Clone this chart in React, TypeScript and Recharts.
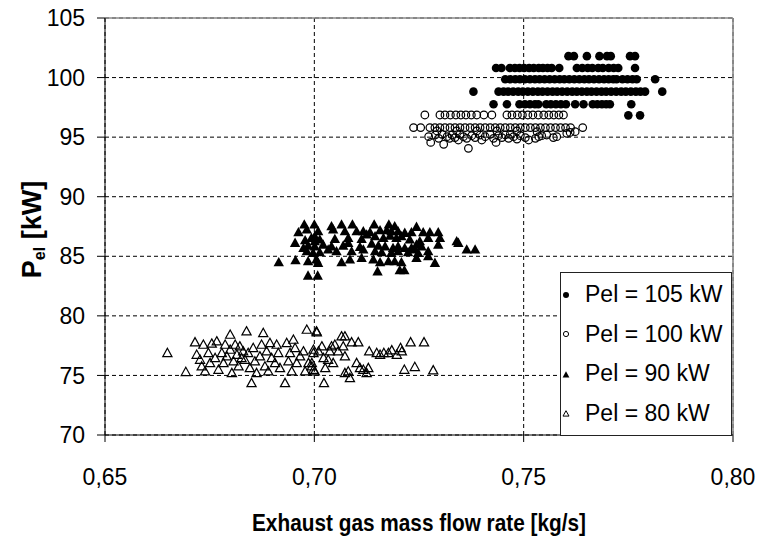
import React from 'react';
import {
  ScatterChart,
  Scatter,
  XAxis,
  YAxis,
  CartesianGrid,
  ReferenceLine,
  Legend,
  Label,
} from 'recharts';

const FONT = "'Liberation Sans', Arial, Helvetica, sans-serif";

const X_TICKS = [0.65, 0.7, 0.75, 0.8];
const Y_TICKS = [70, 75, 80, 85, 90, 95, 100, 105];
const SERIES_NAMES = ['Pel = 105 kW', 'Pel = 100 kW', 'Pel = 90 kW', 'Pel = 80 kW'];

// Pel = 105 kW: power is logged in steps, so each row is one power level
const p105Rows: [number, number[]][] = [
  [101.8, [0.7607, 0.762, 0.7651, 0.7681, 0.7699, 0.7708, 0.7754, 0.7766]],
  [100.8, [0.7434, 0.7447, 0.7467, 0.7479, 0.749, 0.7501, 0.7513, 0.7524, 0.7536, 0.7546, 0.7557, 0.7567,
    0.7585, 0.7627, 0.764, 0.7653, 0.7664, 0.7678, 0.7689, 0.7703, 0.7715, 0.7726, 0.7766]],
  [99.86, [0.7456, 0.7468, 0.748, 0.7491, 0.7503, 0.7515, 0.7527, 0.7538, 0.755, 0.7562, 0.7574, 0.7586,
    0.7597, 0.7609, 0.7621, 0.7633, 0.7645, 0.7656, 0.7668, 0.768, 0.7692, 0.7703, 0.7714, 0.7722,
    0.7736, 0.7748, 0.776, 0.777, 0.7814]],
  [98.82, [0.738, 0.744, 0.7452, 0.7463, 0.7475, 0.7487, 0.7498, 0.751, 0.7522, 0.7534, 0.7545, 0.7557,
    0.7569, 0.758, 0.7592, 0.7604, 0.7616, 0.7627, 0.7639, 0.7651, 0.7662, 0.7674, 0.7686, 0.7697,
    0.7709, 0.7721, 0.7733, 0.7744, 0.7756, 0.7768, 0.7779, 0.779, 0.7831]],
  [97.76, [0.7428, 0.746, 0.749, 0.7503, 0.7515, 0.7527, 0.7535, 0.7554, 0.7565, 0.7577, 0.7589, 0.7601,
    0.7623, 0.7643, 0.7665, 0.7676, 0.7687, 0.7697, 0.7706, 0.7757]],
  [96.83, [0.775, 0.7778]],
];

// Pel = 100 kW
const p100Rows: [number, number[]][] = [
  [96.86, [0.7264, 0.73, 0.7312, 0.7325, 0.7338, 0.735, 0.7362, 0.7375, 0.7388, 0.7405, 0.7424, 0.746,
    0.7472, 0.7485, 0.7497, 0.751, 0.7522, 0.7535, 0.7548, 0.756, 0.7572, 0.7584, 0.7595]],
  [95.8, [0.7237, 0.7254, 0.7276, 0.7288, 0.73, 0.7312, 0.7324, 0.7336, 0.7348, 0.736, 0.7372, 0.7384,
    0.7396, 0.7408, 0.742, 0.7432, 0.7444, 0.7456, 0.7468, 0.748, 0.7492, 0.7504, 0.7516, 0.7528, 0.754,
    0.7552, 0.7564, 0.7576, 0.7588, 0.76, 0.7612, 0.7641]],
];
const p100Loose: [number, number][] = [
  [0.7273, 95.04], [0.7278, 94.56], [0.7289, 95.18], [0.7297, 94.9], [0.7305, 95.24], [0.7309, 94.4],
  [0.7317, 95.04], [0.7323, 94.9], [0.7329, 95.18], [0.7336, 94.96], [0.7344, 94.76], [0.7348, 95.24],
  [0.7356, 95.04], [0.7368, 94.06], [0.7364, 94.9], [0.7376, 95.12], [0.7384, 94.96], [0.7396, 95.18],
  [0.74, 94.76], [0.7408, 95.04], [0.742, 95.24], [0.7428, 94.9], [0.7434, 94.56], [0.744, 95.12],
  [0.7448, 94.96], [0.7456, 95.18], [0.7464, 94.9], [0.7468, 95.24], [0.7476, 95.04], [0.7484, 94.84],
  [0.7492, 95.12], [0.7504, 94.96], [0.7512, 94.76], [0.7528, 94.9], [0.7536, 95.04], [0.7543, 95.12],
  [0.7555, 95.18], [0.7571, 94.96], [0.7579, 95.04], [0.7603, 95.32], [0.7611, 95.4], [0.7623, 95.46],
  [0.7293, 95.52], [0.734, 95.52], [0.7388, 95.52], [0.7436, 95.52], [0.7484, 95.52], [0.7532, 95.46],
];

// Pel = 90 kW
const p90Points: [number, number][] = [
  [0.6976, 87.63], [0.7, 87.63], [0.7041, 87.49], [0.7065, 87.63], [0.7091, 87.63], [0.7143, 87.63],
  [0.7178, 87.63], [0.7192, 87.49], [0.7244, 87.43], [0.6962, 86.98], [0.6982, 87.21], [0.7009, 87.07],
  [0.7045, 87.21], [0.7073, 87.07], [0.7101, 87.07], [0.7117, 87.07], [0.7133, 86.98], [0.7157, 87.15],
  [0.7173, 87.15], [0.7184, 87.07], [0.72, 87.07], [0.7216, 86.93], [0.7232, 86.98], [0.726, 86.98],
  [0.7276, 86.98], [0.7296, 86.98], [0.6954, 86.09], [0.6978, 86.31], [0.6993, 86.5], [0.7013, 86.37],
  [0.7049, 86.42], [0.7081, 86.5], [0.7113, 86.42], [0.7125, 86.79], [0.7145, 86.65], [0.7165, 86.5],
  [0.7181, 86.7], [0.7196, 86.5], [0.7208, 86.65], [0.7228, 86.37], [0.7252, 86.23], [0.7272, 86.5],
  [0.73, 86.5], [0.734, 86.23], [0.7344, 86.09], [0.6974, 85.66], [0.6985, 85.86], [0.7001, 85.8],
  [0.7021, 85.94], [0.7041, 85.8], [0.7069, 85.86], [0.7081, 86.09], [0.7109, 85.75], [0.7137, 86.03],
  [0.7153, 85.86], [0.7169, 85.8], [0.7188, 85.66], [0.72, 85.8], [0.7216, 85.66], [0.7244, 85.94],
  [0.7256, 85.8], [0.7296, 85.94], [0.7364, 85.53], [0.7384, 85.53], [0.6982, 85.39], [0.6997, 85.25],
  [0.7013, 85.3], [0.7033, 85.53], [0.7053, 85.39], [0.7089, 85.39], [0.7117, 85.53], [0.7145, 85.39],
  [0.7161, 85.3], [0.7184, 85.25], [0.72, 85.39], [0.7224, 85.3], [0.724, 85.53], [0.7272, 85.39],
  [0.6915, 84.46], [0.6955, 84.63], [0.6985, 84.55], [0.7005, 84.69], [0.7009, 84.41], [0.7065, 84.46],
  [0.7085, 84.69], [0.7113, 84.83], [0.7141, 84.69], [0.7157, 84.46], [0.7177, 84.55], [0.7192, 84.55],
  [0.7208, 84.46], [0.7244, 84.83], [0.7272, 84.97], [0.7288, 84.41], [0.7151, 83.7], [0.7204, 83.79],
  [0.7215, 83.79], [0.6985, 83.34], [0.7008, 83.34], [0.7001, 86.65], [0.7001, 86.23], [0.7232, 85.66],
  [0.7248, 85.25],
];

// Pel = 80 kW
const p80Points: [number, number][] = [
  [0.6649, 76.85], [0.6693, 75.26], [0.6715, 77.75], [0.6719, 76.71], [0.6727, 76.29], [0.6731, 75.73],
  [0.6735, 77.55], [0.6739, 75.31], [0.6747, 76.85], [0.6751, 76.01], [0.6755, 77.64], [0.6763, 76.43],
  [0.6767, 77.83], [0.6771, 75.45], [0.6779, 76.85], [0.6783, 76.01], [0.6787, 77.55], [0.6791, 76.57],
  [0.6799, 78.39], [0.6799, 77.13], [0.6803, 75.17], [0.6807, 76.15], [0.6811, 77.55], [0.6815, 76.71],
  [0.6819, 75.73], [0.6822, 77.41], [0.6826, 76.43], [0.683, 76.99], [0.6834, 76.29], [0.6838, 78.67],
  [0.6842, 76.85], [0.6846, 75.59], [0.685, 74.33], [0.6854, 77.27], [0.6858, 76.15], [0.6862, 75.17],
  [0.687, 76.57], [0.6874, 77.55], [0.6878, 78.53], [0.6882, 75.73], [0.6886, 76.99], [0.689, 75.31],
  [0.6894, 77.69], [0.6898, 76.43], [0.6906, 76.01], [0.691, 77.55], [0.6914, 76.85], [0.6918, 75.59],
  [0.693, 74.33], [0.6934, 77.69], [0.6938, 76.15], [0.6942, 76.85], [0.6946, 75.31], [0.695, 77.97],
  [0.6954, 77.27], [0.6958, 76.01], [0.6966, 76.57], [0.6974, 76.99], [0.6978, 75.31], [0.6982, 78.81],
  [0.6986, 76.01], [0.6994, 75.73], [0.6998, 76.85], [0.7001, 75.31], [0.7005, 78.67],
  [0.7006, 78.59], [0.6998, 77.13], [0.6994, 76.01], [0.6998, 75.45], [0.701, 76.99], [0.7018, 77.41],
  [0.7022, 76.43], [0.7026, 75.59], [0.7023, 74.33], [0.7033, 76.29], [0.7037, 76.99], [0.7041, 77.41],
  [0.7045, 76.01], [0.7049, 77.55], [0.7057, 76.99], [0.7065, 78.25], [0.7069, 77.41], [0.7073, 76.57],
  [0.7073, 78.25], [0.7073, 75.17], [0.7081, 75.31], [0.7085, 74.75], [0.7089, 77.75], [0.7101, 76.01],
  [0.7105, 77.75], [0.7109, 75.59], [0.7117, 75.45], [0.7125, 75.17], [0.7131, 76.99], [0.7129, 75.59],
  [0.7149, 76.85], [0.7157, 76.71], [0.7166, 76.85], [0.7177, 76.85], [0.7185, 77.08], [0.7197, 76.71],
  [0.7206, 77.27], [0.7209, 76.99], [0.7215, 75.45], [0.723, 77.75], [0.724, 75.68], [0.7262, 77.75],
  [0.7284, 75.4],
];

const fromRows = (rows: [number, number[]][]) =>
  rows.flatMap(([y, xs]) => xs.map((x) => ({ x, y })));
const fromPairs = (pairs: [number, number][]) => pairs.map(([x, y]) => ({ x, y }));

const data105 = fromRows(p105Rows);
const data100 = [...fromRows(p100Rows), ...fromPairs(p100Loose)];
const data90 = fromPairs(p90Points);
const data80 = fromPairs(p80Points);

const triPath = (cx: number, cy: number, s: number) =>
  `M${cx},${cy - s * 1.1}L${cx + s},${cy + s * 0.7}L${cx - s},${cy + s * 0.7}Z`;

const FilledCircle = (p: any) => <circle cx={p.cx} cy={p.cy} r={4.3} fill="#000" />;
const OpenCircle = (p: any) => (
  <circle cx={p.cx} cy={p.cy} r={3.8} fill="none" stroke="#000" strokeWidth={1.2} />
);
const FilledTriangle = (p: any) => <path d={triPath(p.cx, p.cy, 5.2)} fill="#000" />;
const OpenTriangle = (p: any) => (
  <path d={triPath(p.cx, p.cy, 4.6)} fill="none" stroke="#000" strokeWidth={1.2} />
);

const legendMarkers = [
  <circle cx={6} cy={6} r={3} fill="#000" />,
  <circle cx={6} cy={6} r={2.6} fill="none" stroke="#000" strokeWidth={1} />,
  <path d={triPath(6, 7, 3.4)} fill="#000" />,
  <path d={triPath(6, 7, 3)} fill="none" stroke="#000" strokeWidth={1} />,
];

const LegendBox = () => (
  <div
    style={{
      width: 172,
      height: 164,
      boxSizing: 'border-box',
      border: '1px solid #222',
      background: '#fff',
      display: 'flex',
      flexDirection: 'column',
      justifyContent: 'space-around',
      padding: '2px 0',
      fontFamily: FONT,
      fontSize: 23,
      color: '#000',
    }}
  >
    {SERIES_NAMES.map((name, i) => (
      <div key={name} style={{ display: 'flex', alignItems: 'center', whiteSpace: 'nowrap' }}>
        <svg width={12} height={12} style={{ marginLeft: -1, marginRight: 13 }}>
          {legendMarkers[i]}
        </svg>
        <span>{name}</span>
      </div>
    ))}
  </div>
);

const XTitle = (props: any) => {
  const { viewBox } = props;
  return (
    <text
      x={viewBox.x + viewBox.width / 2}
      y={531}
      textAnchor="middle"
      fontFamily={FONT}
      fontWeight="bold"
      fontSize={24}
      textLength={334}
      lengthAdjust="spacingAndGlyphs"
      fill="#000"
    >
      Exhaust gas mass flow rate [kg/s]
    </text>
  );
};

const YTitle = (props: any) => {
  const { viewBox } = props;
  const cx = 41;
  const cy = viewBox.y + viewBox.height / 2 + 3;
  return (
    <text
      x={cx}
      y={cy}
      transform={`rotate(-90, ${cx}, ${cy})`}
      textAnchor="middle"
      fontFamily={FONT}
      fontWeight="bold"
      fontSize={27}
      fill="#000"
    >
      <tspan>P</tspan>
      <tspan fontSize={16} dy={4}>el</tspan>
      <tspan dy={-4}> [kW]</tspan>
    </text>
  );
};

export default function App() {
  const tickStyle = { fill: '#000', fontSize: 23, fontFamily: FONT };
  return (
    <div style={{ position: 'absolute', left: 0, top: 0, background: '#fff' }}>
      <ScatterChart width={758} height={540} margin={{ top: 18, right: 25, left: 35, bottom: 55 }}>
        <CartesianGrid stroke="#000" strokeDasharray="4 3" strokeWidth={1} />
        <XAxis
          type="number"
          dataKey="x"
          domain={[0.65, 0.8]}
          ticks={X_TICKS}
          tickFormatter={(v: number) => v.toFixed(2).replace('.', ',')}
          tick={tickStyle}
          tickSize={7}
          tickMargin={27}
          height={50}
          stroke="#000"
          allowDataOverflow
        >
          <Label content={XTitle} />
        </XAxis>
        <YAxis
          type="number"
          dataKey="y"
          domain={[70, 105]}
          ticks={Y_TICKS}
          tick={tickStyle}
          tickSize={8}
          tickMargin={12}
          width={70}
          stroke="#000"
          allowDataOverflow
        >
          <Label content={YTitle} />
        </YAxis>
        <ReferenceLine y={105} stroke="#8a8a8a" strokeWidth={1.6} />
        <ReferenceLine x={0.8} stroke="#8a8a8a" strokeWidth={1.6} />
        <Scatter name={SERIES_NAMES[0]} data={data105} shape={FilledCircle} isAnimationActive={false} />
        <Scatter name={SERIES_NAMES[1]} data={data100} shape={OpenCircle} isAnimationActive={false} />
        <Scatter name={SERIES_NAMES[2]} data={data90} shape={FilledTriangle} isAnimationActive={false} />
        <Scatter name={SERIES_NAMES[3]} data={data80} shape={OpenTriangle} isAnimationActive={false} />
        <Legend
          layout="vertical"
          align="center"
          verticalAlign="middle"
          content={LegendBox}
          wrapperStyle={{ left: 560, top: 272, width: 172, height: 164 }}
        />
      </ScatterChart>
    </div>
  );
}
